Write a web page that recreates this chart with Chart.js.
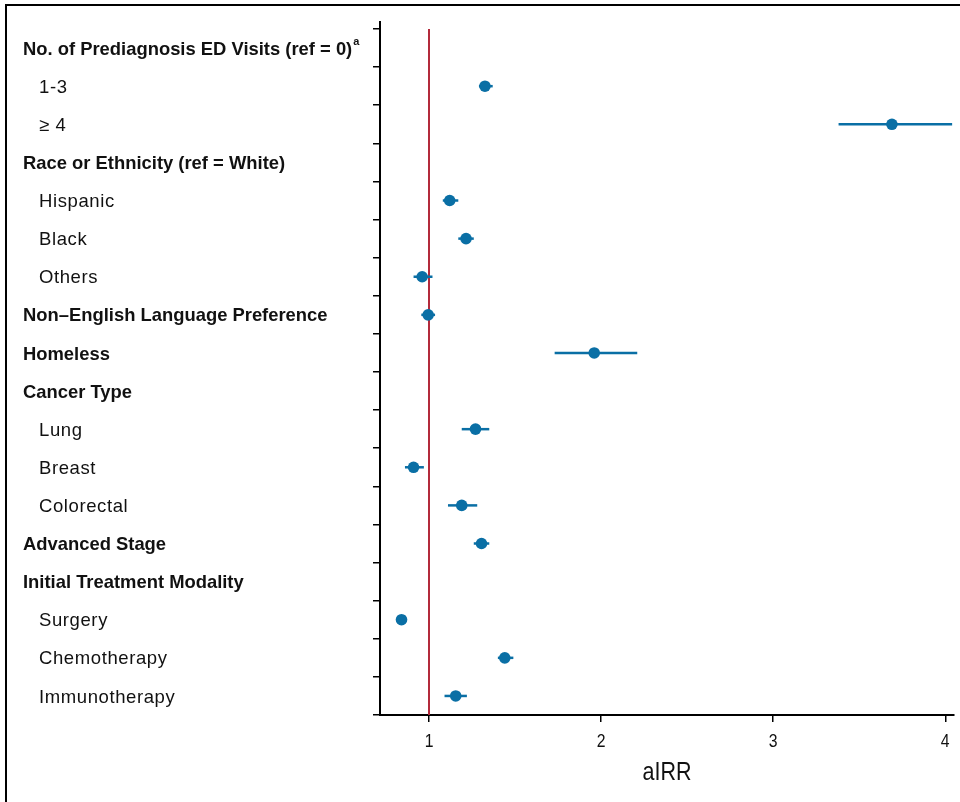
<!DOCTYPE html>
<html>
<head>
<meta charset="utf-8">
<style>
html,body{margin:0;padding:0;background:#fff;}
#wrap{position:relative;width:960px;height:802px;}
canvas{display:block;}
</style>
<script src="https://cdn.jsdelivr.net/npm/chart.js@4.4.1/dist/chart.umd.min.js"></script>
</head>
<body>
<div id="wrap"><canvas id="c" width="960" height="802"></canvas></div>
<script>
// ---- data ----
const rowLabels = [
  "No. of Prediagnosis ED Visits (ref = 0)", "1-3", "\u2265 4",
  "Race or Ethnicity (ref = White)", "Hispanic", "Black", "Others",
  "Non\u2013English Language Preference", "Homeless",
  "Cancer Type", "Lung", "Breast", "Colorectal",
  "Advanced Stage", "Initial Treatment Modality", "Surgery", "Chemotherapy", "Immunotherapy"
];
const rowIsHeader = [true,false,false,true,false,false,false,true,true,true,false,false,false,true,true,false,false,false];
const estimate = [null,1.325,3.69,null,1.12,1.215,0.96,0.995,1.96,null,1.27,0.91,1.19,1.305,null,0.84,1.44,1.155];
const lowerCI  = [null,1.29,3.38,null,1.08,1.17,0.91,0.955,1.73,null,1.19,0.86,1.11,1.26,null,0.83,1.40,1.09];
const upperCI  = [null,1.37,4.04,null,1.17,1.26,1.02,1.035,2.21,null,1.35,0.97,1.28,1.35,null,0.85,1.49,1.22];
const xTicks = [1,2,3,4];
const refValue = 1;
const axisTitle = "aIRR";

const BLUE = '#0a6fa5';
const RED = '#b32a3b';

const points = [];
estimate.forEach((v,i)=>{ if(v!==null) points.push({x:v,y:i+1}); });

function condensedText(ctx, text, x, y, scaleX){
  ctx.save();
  ctx.translate(x, y);
  ctx.scale(scaleX, 1);
  ctx.fillText(text, 0, 0);
  ctx.restore();
}

const overlay = {
  id:'overlay',
  beforeDatasetsDraw(chart){
    const ctx = chart.ctx, xs = chart.scales.x, ys = chart.scales.y;
    ctx.save();
    // reference line
    ctx.strokeStyle = RED; ctx.lineWidth = 2;
    const rx = Math.round(xs.getPixelForValue(refValue));
    ctx.beginPath(); ctx.moveTo(rx, ys.getPixelForValue(0.5)); ctx.lineTo(rx, ys.bottom); ctx.stroke();
    // CI bars
    ctx.strokeStyle = BLUE; ctx.lineWidth = 2.5;
    estimate.forEach((v,i)=>{
      if(v===null) return;
      const y = ys.getPixelForValue(i+1);
      ctx.beginPath();
      ctx.moveTo(xs.getPixelForValue(lowerCI[i]), y);
      ctx.lineTo(xs.getPixelForValue(upperCI[i]), y);
      ctx.stroke();
    });
    ctx.restore();
  },
  afterDraw(chart){
    const ctx = chart.ctx, xs = chart.scales.x, ys = chart.scales.y;
    ctx.save();
    ctx.fillStyle = '#111';
    ctx.textBaseline = 'middle';
    ctx.textAlign = 'left';
    rowLabels.forEach((t,i)=>{
      const y = ys.getPixelForValue(i+1) + 1.5;
      if(rowIsHeader[i]){
        ctx.letterSpacing = '0px';
        ctx.font = 'bold 18.4px "Liberation Sans", Arial, sans-serif';
        ctx.fillText(t, 23, y);
        if(i===0){
          const w = ctx.measureText(t).width;
          ctx.font = 'bold 11px "Liberation Sans", Arial, sans-serif';
          ctx.fillText('a', 23 + w + 1, y - 8);
        }
      } else {
        ctx.letterSpacing = '0.6px';
        ctx.font = '18.5px "Liberation Sans", Arial, sans-serif';
        ctx.fillText(t, 39, y);
      }
    });
    ctx.letterSpacing = '0px';
    // x tick labels (slightly condensed)
    ctx.textAlign = 'center';
    ctx.font = '17.5px "Liberation Sans", Arial, sans-serif';
    xTicks.forEach(v=>{
      condensedText(ctx, String(v), xs.getPixelForValue(v), 742, 0.9);
    });
    // axis title
    ctx.font = '25px "Liberation Sans", Arial, sans-serif';
    condensedText(ctx, axisTitle, (xs.left + xs.right)/2, 773, 0.86);
    // frame (top and left)
    ctx.strokeStyle = '#000'; ctx.lineWidth = 2;
    ctx.beginPath(); ctx.moveTo(6, 802); ctx.lineTo(6, 5); ctx.lineTo(960, 5); ctx.stroke();
    ctx.restore();
  }
};

new Chart(document.getElementById('c'), {
  type:'scatter',
  data:{ datasets:[{ data: points, backgroundColor: BLUE, borderColor: BLUE, pointRadius:5.8, pointHoverRadius:5.8, borderWidth:0 }]},
  options:{
    responsive:false, animation:false,
    plugins:{ legend:{display:false}, tooltip:{enabled:false} },
    layout:{ padding:{ left:0, top:22, right:5, bottom:0 } },
    scales:{
      x:{
        type:'linear', min:0.715, max:4.052,
        afterBuildTicks(s){ s.ticks = xTicks.map(v=>({value:v})); },
        afterFit(s){ s.height = 802 - 22 - 693; },
        grid:{ drawOnChartArea:false, tickLength:7, color:'#000', lineWidth:1.5 },
        border:{ color:'#000', width:2 },
        ticks:{ callback:()=>'', padding:0, maxRotation:0 },
        title:{ display:false }
      },
      y:{
        type:'linear', reverse:true, min:0.316, max:18.5,
        afterBuildTicks(s){ const t=[]; for(let v=0.5; v<=18.5; v+=1) t.push({value:v}); s.ticks=t; },
        afterFit(s){ s.width = 380; },
        grid:{ drawOnChartArea:false, tickLength:7, color:'#000', lineWidth:1.5 },
        border:{ color:'#000', width:2 },
        ticks:{ callback:()=>'', padding:0 }
      }
    }
  },
  plugins:[overlay]
});
</script>
</body>
</html>
